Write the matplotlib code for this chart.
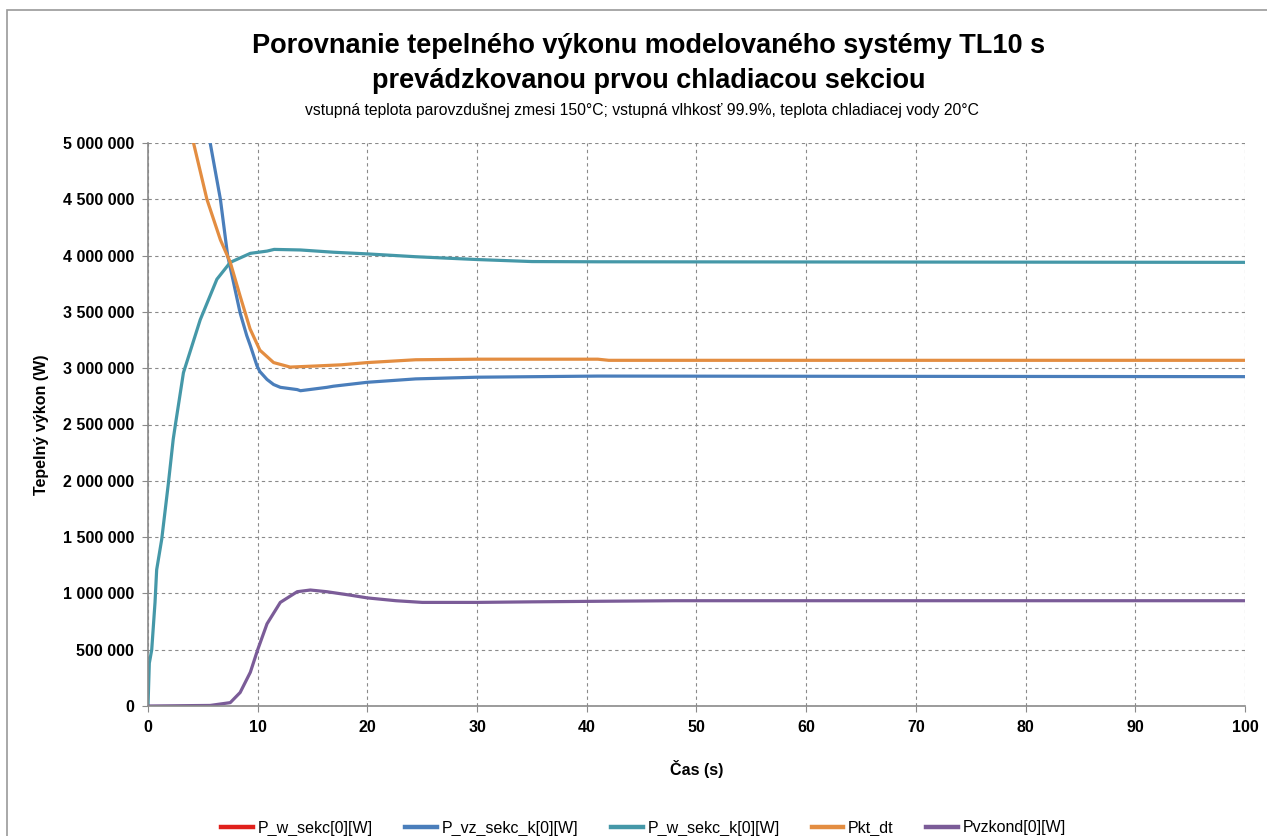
import matplotlib
matplotlib.use("Agg")
import matplotlib.pyplot as plt
from matplotlib.patches import Rectangle

# values (time in s, power in W)
t_vz = [0, 2, 4, 5.67, 6.6, 7.26, 7.8, 8.4, 9.0, 9.33, 9.94, 10.2, 10.85, 11.45, 12.07,
        13.6, 13.9, 16.3, 16.9, 20, 24.4, 30, 41, 100]
p_vz = [9.0e6, 7.2e6, 5.9e6, 5.0e6, 4.5e6, 4.0e6, 3.76e6, 3.49e6, 3.29e6, 3.2e6, 3.02e6,
        2.97e6, 2.9e6, 2.855e6, 2.83e6, 2.81e6, 2.80e6, 2.83e6, 2.84e6, 2.875e6, 2.905e6,
        2.92e6, 2.93e6, 2.925e6]

t_w = [0, 0.12, 0.34, 0.64, 0.79, 1.25, 1.86, 2.3, 2.5, 3.23, 4.76, 6.28, 7.5, 9.33, 10.85,
       11.5, 13.9, 16.9, 20, 24.4, 30, 35, 41, 100]
p_w = [0, 0.38e6, 0.5e6, 0.92e6, 1.21e6, 1.48e6, 1.98e6, 2.37e6, 2.5e6, 2.96e6, 3.43e6,
       3.79e6, 3.94e6, 4.02e6, 4.04e6, 4.055e6, 4.05e6, 4.03e6, 4.015e6, 3.99e6, 3.965e6,
       3.947e6, 3.945e6, 3.94e6]

t_kt = [0, 2, 4.15, 5.37, 6.6, 7.5, 8.4, 9.3, 10.2, 11.45, 12.96, 15.4, 17.6, 20, 24.4,
        30, 41, 42, 100]
p_kt = [6.5e6, 5.7e6, 5.0e6, 4.5e6, 4.14e6, 3.94e6, 3.64e6, 3.35e6, 3.16e6, 3.05e6,
        3.01e6, 3.02e6, 3.03e6, 3.05e6, 3.075e6, 3.08e6, 3.08e6, 3.07e6, 3.07e6]

t_kond = [0, 5.67, 7.5, 8.4, 9.33, 10, 10.85, 12.06, 13.6, 14.8, 16.3, 18.4, 20, 22.6, 25,
          30, 35, 41, 48, 100]
p_kond = [0, 0.005e6, 0.03e6, 0.12e6, 0.3e6, 0.5e6, 0.73e6, 0.92e6, 1.015e6, 1.03e6,
          1.015e6, 0.985e6, 0.96e6, 0.935e6, 0.92e6, 0.92e6, 0.925e6, 0.93e6, 0.935e6, 0.935e6]

# P_w_sekc[0] is not visible in the plotted range, only in the legend
t_sekc = []
p_sekc = []

yticks = [0, 500000, 1000000, 1500000, 2000000, 2500000, 3000000, 3500000,
          4000000, 4500000, 5000000]
xticks = [0, 10, 20, 30, 40, 50, 60, 70, 80, 90, 100]

plt.rcParams['font.family'] = ['Liberation Sans', 'DejaVu Sans']

fig = plt.figure(figsize=(12.67, 8.36), dpi=100)
ax = fig.add_axes([148/1267, 1-706/836, (1245-148)/1267, (706-143)/836])

# outer chart frame
fig.patches.append(Rectangle((7/1267, -0.1), 1.2, 1-10/836+0.1, transform=fig.transFigure,
                             fill=False, edgecolor='#9a9a9a', linewidth=1.2))

lw = 2.3
ax.plot(t_sekc, p_sekc, color='#E0201B', linewidth=lw, label='P_w_sekc[0][W]')
ax.plot(t_vz, p_vz, color='#4A7EBB', linewidth=lw, label='P_vz_sekc_k[0][W]')
ax.plot(t_w, p_w, color='#4598A8', linewidth=lw, label='P_w_sekc_k[0][W]')
ax.plot(t_kt, p_kt, color='#E38D41', linewidth=lw, label='Pkt_dt')
ax.plot(t_kond, p_kond, color='#7B5C98', linewidth=lw, label='Pvzkond[0][W]')

ax.set_xlim(0, 100)
ax.set_ylim(0, 5000000)
ax.set_xticks(xticks)
ax.set_yticks(yticks)
ax.set_yticklabels(['{:,}'.format(v).replace(',', ' ') for v in yticks])
ax.grid(True, linestyle=(0, (3, 3)), color='#8a8a8a', linewidth=0.8)
for s in ['top', 'right']:
    ax.spines[s].set_visible(False)
for s in ['left', 'bottom']:
    ax.spines[s].set_color('#8a8a8a')
    ax.spines[s].set_linewidth(1.2)
ax.tick_params(colors='#8a8a8a', labelcolor='black', labelsize=11.5, length=4, pad=6)
for lab in ax.get_xticklabels() + ax.get_yticklabels():
    lab.set_fontweight('bold')

ax.set_xlabel('Čas (s)', fontsize=11.5, fontweight='bold', labelpad=18)
ax.set_ylabel('Tepelný výkon (W)', fontsize=11.5, fontweight='bold', labelpad=10)

fig.text(0.512, 1-46/836, 'Porovnanie tepelného výkonu modelovaného systémy TL10 s',
         ha='center', va='center', fontsize=19.5, fontweight='bold')
fig.text(0.512, 1-81/836, 'prevádzkovanou prvou chladiacou sekciou',
         ha='center', va='center', fontsize=19.5, fontweight='bold')
fig.text(0.507, 1-111/836,
         'vstupná teplota parovzdušnej zmesi 150°C; vstupná vlhkosť 99.9%, teplota chladiacej vody 20°C',
         ha='center', va='center', fontsize=11.3)

leg = fig.legend(loc='center', bbox_to_anchor=(0.508, 1-828/836), ncol=5, frameon=False,
                 fontsize=11.5, handlelength=2.0, columnspacing=2.0, handletextpad=0.3)
for h in leg.legend_handles:
    h.set_linewidth(3.2)

fig.savefig('out.png', dpi=100)
